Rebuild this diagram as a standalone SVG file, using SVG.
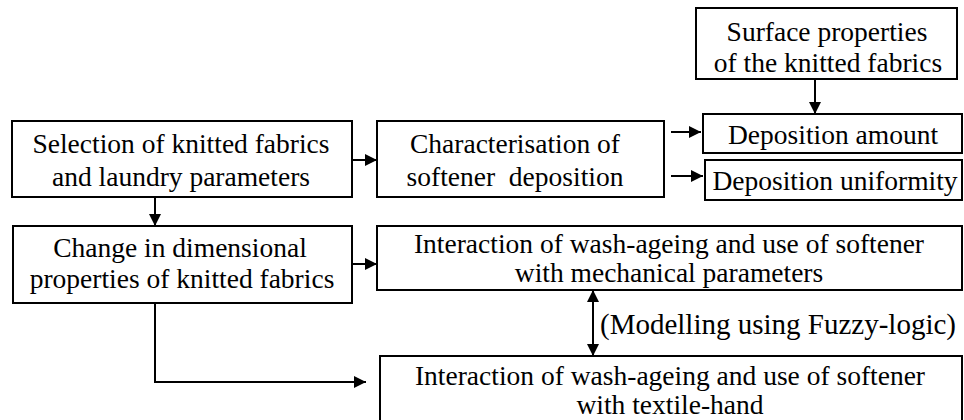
<svg xmlns="http://www.w3.org/2000/svg" width="964" height="420" viewBox="0 0 964 420">
<defs>
<style>
.box{fill:#fff;stroke:#000;stroke-width:2}
.t{font-family:"Liberation Serif","Times New Roman",serif;font-size:27.5px;fill:#000;text-anchor:middle}
.l{font-family:"Liberation Serif","Times New Roman",serif;font-size:29px;fill:#000}
.c{fill:none;stroke:#000;stroke-width:2}
</style>
<marker id="ah" markerUnits="userSpaceOnUse" markerWidth="12" markerHeight="12" viewBox="0 0 12 12" refX="12" refY="6" orient="auto-start-reverse">
<path d="M0,0 L12,6 L0,12 Z" fill="#000"/>
</marker>
</defs>
<rect width="964" height="420" fill="#fff"/>
<g id="n-selection">
<rect class="box" x="12" y="121" width="340" height="76"/>
<text class="t" x="181" y="153">Selection of knitted fabrics</text>
<text class="t" x="181" y="186">and laundry parameters</text>
</g>
<g id="n-change">
<rect class="box" x="13" y="226" width="339" height="77"/>
<text class="t" x="180" y="257">Change in dimensional</text>
<text class="t" x="182" y="288">properties of knitted fabrics</text>
</g>
<g id="n-characterisation">
<rect class="box" x="377" y="121" width="287" height="76"/>
<text class="t" x="515" y="153">Characterisation of</text>
<text class="t" x="515" y="186" xml:space="preserve">softener  deposition</text>
</g>
<g id="n-surface">
<rect class="box" x="696" y="8" width="261" height="71"/>
<text class="t" x="827" y="41">Surface properties</text>
<text class="t" x="828" y="72">of the knitted fabrics</text>
</g>
<g id="n-amount">
<rect class="box" x="703" y="114" width="259" height="39"/>
<text class="t" x="833" y="144">Deposition amount</text>
</g>
<g id="n-uniformity">
<rect class="box" x="705" y="160" width="257" height="40"/>
<text class="t" x="835" y="190">Deposition uniformity</text>
</g>
<g id="n-mechanical">
<rect class="box" x="377" y="226" width="585" height="64"/>
<text class="t" x="669" y="253">Interaction of wash-ageing and use of softener</text>
<text class="t" x="669" y="282">with mechanical parameters</text>
</g>
<g id="n-hand">
<rect class="box" x="380" y="356" width="582" height="70"/>
<text class="t" x="670" y="385">Interaction of wash-ageing and use of softener</text>
<text class="t" x="670" y="414">with textile-hand</text>
</g>
<g id="connectors">
<line class="c" x1="155" y1="197" x2="155" y2="226" marker-end="url(#ah)"/>
<line class="c" x1="352" y1="160" x2="377" y2="160" marker-end="url(#ah)"/>
<line class="c" x1="352" y1="264" x2="377" y2="264" marker-end="url(#ah)"/>
<line class="c" x1="671" y1="132" x2="701" y2="132" marker-end="url(#ah)"/>
<line class="c" x1="671" y1="176" x2="703" y2="176" marker-end="url(#ah)"/>
<line class="c" x1="815" y1="79" x2="815" y2="114" marker-end="url(#ah)"/>
<polyline class="c" points="155,303 155,382 366,382" marker-end="url(#ah)"/>
<line class="c" x1="593" y1="290" x2="593" y2="356" marker-start="url(#ah)" marker-end="url(#ah)"/>
<text class="l" x="600" y="334">(Modelling using Fuzzy-logic)</text>
</g>
</svg>
